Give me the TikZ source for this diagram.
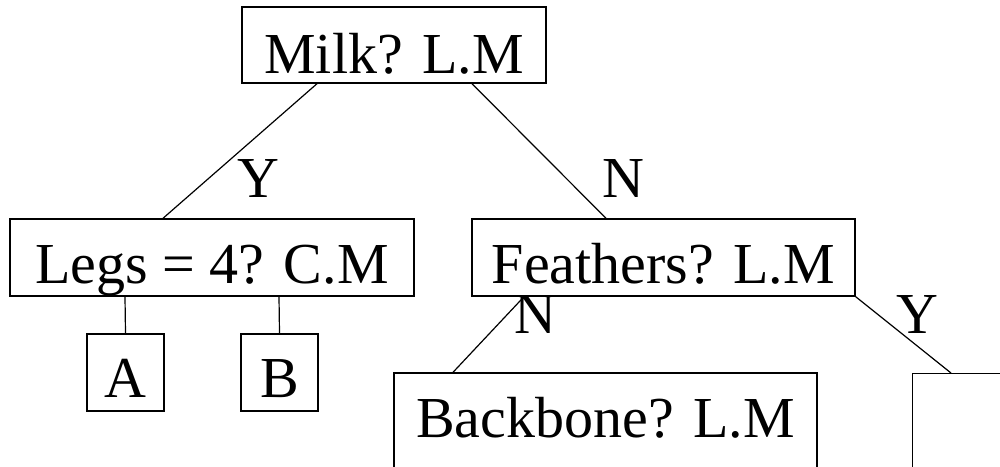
\documentclass[tikz,border=0pt]{standalone}
\usepackage{fontspec}
\setmainfont{Liberation Serif}
\begin{document}
\begin{tikzpicture}[x=1pt,y=-1pt,
  line width=1.4pt,
  every node/.style={font=\fontsize{58}{70}\selectfont},
  treebox/.style={draw, rectangle, inner sep=0pt, anchor=base,
    text height=#1},
  treebox/.default=64pt,
  edge/.style={line width=1.2pt},
  branch/.style={inner sep=0pt, anchor=base}]
\useasboundingbox (0,0) rectangle (1000,466);
\clip (0,0) rectangle (1000,466);

% decision nodes
\node[treebox=66pt, text depth=10pt, minimum width=304pt] (milk) at (394,73) {Milk? L.M};
\node[treebox=64pt, text depth=13pt, minimum width=404pt] (legs) at (212,283) {Legs = 4? C.M};
\node[treebox=64pt, text depth=13pt, minimum width=383pt] (feath) at (663.5,283) {Feathers? L.M};
\node[treebox=63pt, text depth=14pt, minimum width=77pt] (A) at (125.5,397) {A};
\node[treebox=63pt, text depth=14pt, minimum width=77pt] (B) at (279.5,397) {B};
\node[treebox=64pt, text depth=120pt, minimum width=423pt] (bb) at (605.5,437) {Backbone? L.M};
\node[draw, rectangle, inner sep=0pt, minimum width=300pt, minimum height=200pt,
  anchor=north west] (rest) at (912,373) {};

% branches
\draw[edge] ([xshift=-77pt]milk.south) -- ([xshift=-49pt]legs.north);
\draw[edge] ([xshift=78pt]milk.south) -- ([xshift=-57.5pt]feath.north);
\draw[edge] ([xshift=-87pt]legs.south) -- (A.north);
\draw[edge] ([xshift=67pt]legs.south) -- (B.north);
\draw[edge] ([xshift=-139.5pt]feath.south) -- ([xshift=-152.5pt]bb.north);
\draw[edge] (feath.south east) -- ([xshift=39pt]rest.north west);

% branch labels
\node[branch] (ly) at (258,197) {Y};
\node[branch] (ln) at (623,197) {N};
\node[branch] (fn) at (535,333) {N};
\node[branch] (fy) at (917,333) {Y};
\end{tikzpicture}
\end{document}
